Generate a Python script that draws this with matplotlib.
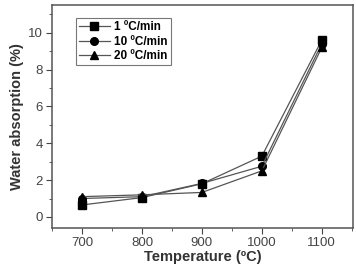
import matplotlib as mpl
import matplotlib.pyplot as plt
from matplotlib.ticker import MultipleLocator

mpl.rcParams['font.family'] = 'Liberation Sans'

temps = [700, 800, 900, 1000, 1100]
rate_1 = [0.65, 1.05, 1.8, 3.3, 9.6]
rate_10 = [1.0, 1.1, 1.82, 2.75, 9.4]
rate_20 = [1.1, 1.2, 1.33, 2.5, 9.2]
labels = ['1 ºC/min', '10 ºC/min', '20 ºC/min']

fig = plt.figure(figsize=(3.56, 2.67), dpi=100)
ax = fig.add_axes([52/356, 39/267, 301/356, 223/267])

series = [(rate_1, 's'), (rate_10, 'o'), (rate_20, '^')]
for (vals, mk), lab in zip(series, labels):
    ax.plot(temps, vals, color='#555555', linewidth=0.9, marker=mk,
            markersize=5.5, markerfacecolor='black', markeredgecolor='black',
            label=lab)

ax.set_xlim(650, 1152)
ax.set_ylim(-0.6, 11.5)
ax.set_xticks(temps)
ax.set_yticks([0, 2, 4, 6, 8, 10])
ax.xaxis.set_minor_locator(MultipleLocator(50))
ax.yaxis.set_minor_locator(MultipleLocator(1))
ax.tick_params(which='both', direction='out', colors='#444444', labelcolor='#444444',
               labelsize=9.5)
ax.tick_params(which='major', length=4, pad=2.5)
ax.tick_params(which='minor', length=2.5)
for s in ax.spines.values():
    s.set_color('#555555')
    s.set_linewidth(1.1)

ax.set_xlabel('Temperature (ºC)', fontsize=10.5, fontweight='bold', color='#333333', labelpad=1)
ax.set_ylabel('Water absorption (%)', fontsize=10.5, fontweight='bold', color='#333333', labelpad=3)

leg = ax.legend(loc='upper left', bbox_to_anchor=(0.08, 0.94),
                prop={'weight': 'bold', 'size': 8.5}, frameon=True, fancybox=False,
                borderpad=0.25, labelspacing=0.2, handlelength=2.6, handletextpad=0.4,
                borderaxespad=0.0)
leg.get_frame().set_edgecolor('#555555')
leg.get_frame().set_linewidth(0.8)

fig.savefig('out.png', dpi=100)
